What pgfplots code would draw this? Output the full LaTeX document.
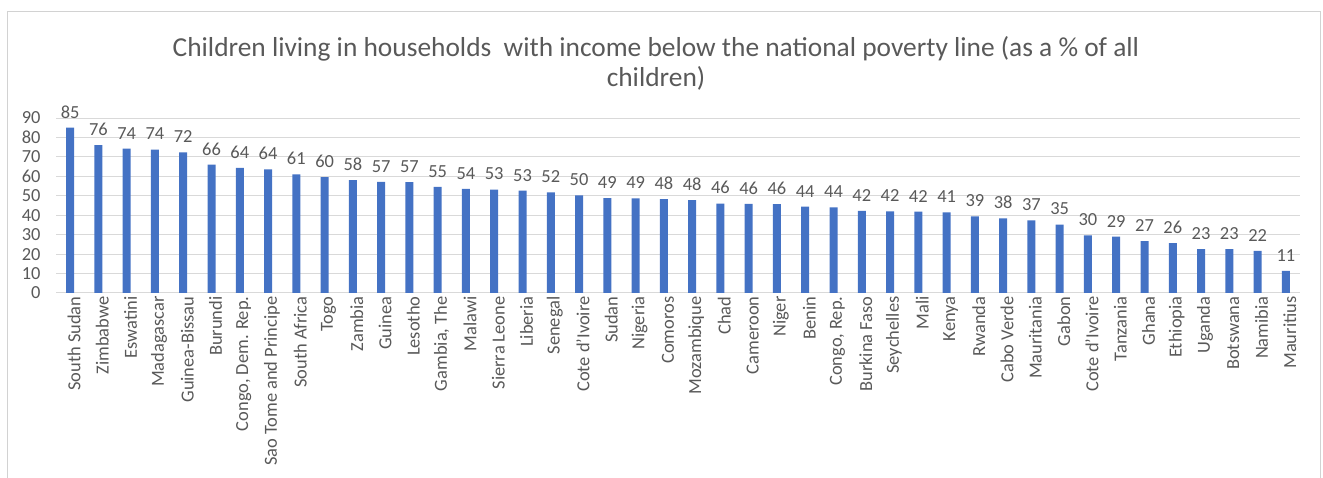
\documentclass[border=0pt]{standalone}
\usepackage{pgfplots}
\pgfplotsset{compat=1.18}
\usepackage{fontspec}
\setmainfont{Carlito}
\definecolor{barblue}{HTML}{4472C4}
\definecolor{txtgray}{HTML}{595959}
\definecolor{gridgray}{HTML}{D9D9D9}
\begin{document}
\begin{tikzpicture}[x=1bp,y=1bp]
\useasboundingbox (0,0) rectangle (1323,478);
\draw[gray!35, line width=1bp] (7,0) -- (7,466) -- (1320,466) -- (1320,0);
\node[font=\fontsize{27.5}{30}\selectfont, text=txtgray, align=center] at (656,415)
  {Children living in households~ with income below the national poverty line (as a \% of all\\children)};
\begin{axis}[
  at={(56bp,185bp)}, anchor=south west,
  scale only axis, width=1244bp, height=175bp,
  ymin=0, ymax=90, ytick={0,10,...,90},
  xmin=-0.5, xmax=43.5,
  xtick=data,
  xticklabels={South Sudan,Zimbabwe,Eswatini,Madagascar,Guinea-Bissau,Burundi,{Congo, Dem. Rep.},Sao Tome and Principe,South Africa,Togo,Zambia,Guinea,Lesotho,{Gambia, The},Malawi,Sierra Leone,Liberia,Senegal,Cote d'Ivoire,Sudan,Nigeria,Comoros,Mozambique,Chad,Cameroon,Niger,Benin,{Congo, Rep.},Burkina Faso,Seychelles,Mali,Kenya,Rwanda,Cabo Verde,Mauritania,Gabon,Cote d'Ivoire,Tanzania,Ghana,Ethiopia,Uganda,Botswana,Namibia,Mauritius},
  xticklabel style={rotate=90, anchor=east, font=\fontsize{18.5}{20}\selectfont, text=txtgray},
  yticklabel style={font=\fontsize{18.5}{20}\selectfont, text=txtgray},
  /pgf/number format/assume math mode=true,
  axis x line*=bottom, axis y line*=left,
  axis line style={draw=none},
  ymajorgrids, grid style={gridgray, line width=1bp},
  major tick length=0pt,
  ytick style={draw=none}, xtick style={draw=none},
  yticklabel style={xshift=-12bp},
  xticklabel style={yshift=-4bp},
  clip=false,
]
\addplot[ybar, bar width=8bp, fill=barblue, draw=none,
  nodes near coords={\pgfmathprintnumber[fixed,precision=0]{\pgfplotspointmeta}},
  nodes near coords style={font=\fontsize{18.5}{20}\selectfont, text=txtgray, anchor=south, yshift=6bp},
] coordinates {
(0,85) (1,76) (2,74.3) (3,73.8) (4,72.3) (5,66) (6,64.4) (7,63.6) (8,61) (9,59.6)
(10,58) (11,57.2) (12,57) (13,54.6) (14,53.6) (15,53.2) (16,52.6) (17,51.8) (18,50.2) (19,48.8)
(20,48.6) (21,48.3) (22,47.8) (23,46) (24,45.8) (25,45.7) (26,44.4) (27,44) (28,42.2) (29,42)
(30,41.9) (31,41.4) (32,39.4) (33,38.4) (34,37.4) (35,35.2) (36,29.6) (37,29) (38,26.7) (39,25.6)
(40,22.6) (41,22.6) (42,21.6) (43,11.4)
};
\end{axis}
\end{tikzpicture}
\end{document}
